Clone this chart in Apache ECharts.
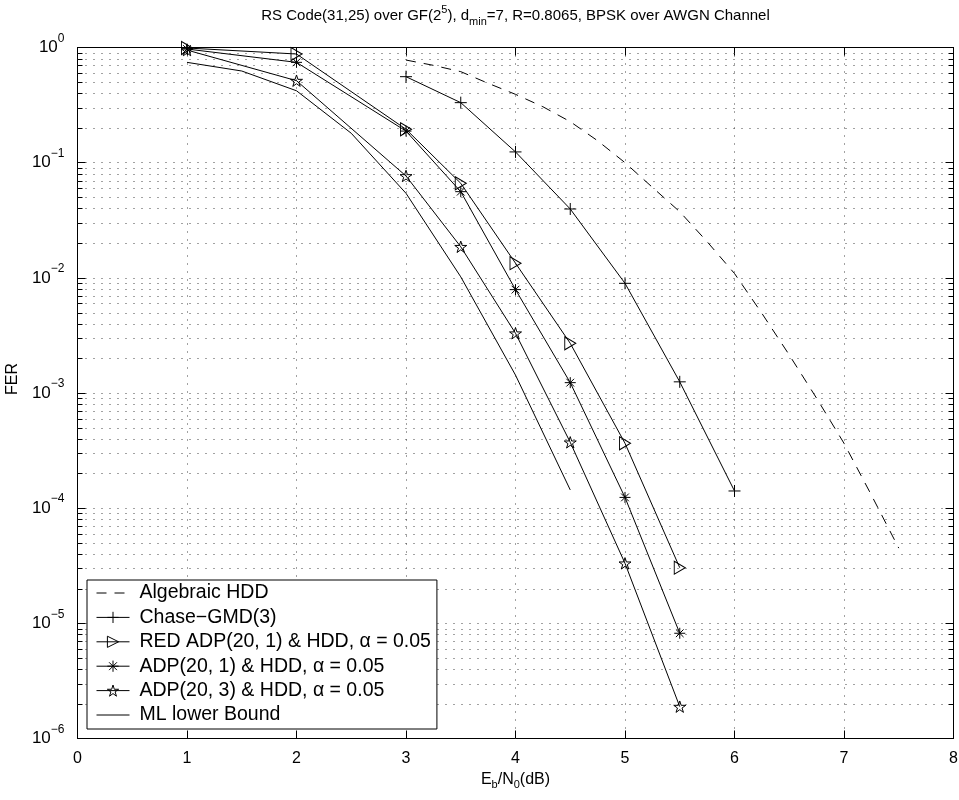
<!DOCTYPE html>
<html>
<head>
<meta charset="utf-8">
<title>RS(31,25) FER</title>
<script src="https://cdn.jsdelivr.net/npm/echarts@6/dist/echarts.min.js"></script>
<style>
  html, body { margin: 0; padding: 0; background: #fff; }
  #chart { width: 959px; height: 800px; }
</style>
</head>
<body>
<div id="chart"></div>
<script>
// Eb/N0 (dB) and frame error rate for each decoder
const ebN0Hdd = [3, 3.25, 3.5, 3.75, 4, 4.25, 4.5, 4.75, 5, 5.25, 5.5, 5.75, 6, 6.25, 6.5, 6.75, 7, 7.25, 7.5];
const ferHdd = [0.778, 0.70, 0.617, 0.489, 0.392, 0.306, 0.227, 0.155, 0.100, 0.0611, 0.0375, 0.0206, 0.0109,
                0.00492, 0.00214, 0.00090, 0.000366, 0.00013, 0.000045];

const ebN0Chase = [3, 3.5, 4, 4.5, 5, 5.5, 6];
const ferChase = [0.558, 0.332, 0.124, 0.0396, 0.00896, 0.00125, 0.000141];

const ebN0Red = [1, 2, 3, 3.5, 4, 4.5, 5, 5.5];
const ferRed = [0.99, 0.878, 0.195, 0.0662, 0.0134, 0.0027, 0.000366, 0.0000304];

const ebN0Adp1 = [1, 2, 3, 3.5, 4, 4.5, 5, 5.5];
const ferAdp1 = [0.97, 0.743, 0.188, 0.056, 0.0079, 0.00123, 0.000124, 0.0000082];

const ebN0Adp3 = [1, 2, 3, 3.5, 4, 4.5, 5, 5.5];
const ferAdp3 = [0.95, 0.515, 0.0766, 0.0186, 0.0033, 0.000373, 0.0000332, 0.00000189];

const ebN0Ml = [1, 1.5, 2, 2.5, 3, 3.5, 4, 4.5];
const ferMl = [0.743, 0.625, 0.421, 0.18, 0.0542, 0.0102, 0.00143, 0.000144];

const seriesNames = [
  'Algebraic HDD',
  'Chase\u2212GMD(3)',
  'RED ADP(20, 1) & HDD, \u03b1 = 0.05',
  'ADP(20, 1) & HDD, \u03b1 = 0.05',
  'ADP(20, 3) & HDD, \u03b1 = 0.05',
  'ML lower Bound'
];

// axis ticks
const xTicks = [0, 1, 2, 3, 4, 5, 6, 7, 8];
const yDecades = [-6, -5, -4, -3, -2, -1, 0];

const FONT = '"Liberation Sans", Arial, Helvetica, sans-serif';

// minor log grid lines: 2..9 x 10^k inside each decade
const yMinor = [];
for (let k = yDecades[0]; k < yDecades[yDecades.length - 1]; k++) {
  for (let m = 2; m <= 9; m++) yMinor.push([0, m * Math.pow(10, k)]);
}

const pairs = (xs, ys) => xs.map((x, i) => [x, ys[i]]);

const plusPath = 'path://M5,0L5,10M0,5L10,5';
const asteriskPath = 'path://M5,0L5,10M0,5L10,5M1.5,1.5L8.5,8.5M1.5,8.5L8.5,1.5';
const starPath = 'path://M5,0L6.123,3.455L9.755,3.455L6.817,5.59L7.939,9.045L5,6.91L2.061,9.045L3.183,5.59L0.245,3.455L3.877,3.455Z';
const triRightPath = 'path://M0,0L10,6L0,12Z';

const CLEAR = 'rgba(255,255,255,0)';
const markerStyle = { color: CLEAR, borderColor: '#000', borderWidth: 1 };
const lineBase = { color: '#000', width: 1 };

const chart = echarts.init(document.getElementById('chart'), null, { renderer: 'canvas' });

const supLabel = (exp) => '{b|10}{s|' + (exp < 0 ? '\u2212' + (-exp) : String(exp)) + '}';

const yAxisCommon = {
  type: 'log',
  logBase: 10,
  min: Math.pow(10, yDecades[0]),
  max: Math.pow(10, yDecades[yDecades.length - 1]),
  splitNumber: yDecades.length - 1,
  axisLine: { show: true, onZero: false, lineStyle: { color: '#000', width: 1 } },
  axisTick: { show: true, inside: true, length: 8, lineStyle: { color: '#000' } },
  minorTick: { show: false },
  splitLine: { show: false }
};

const xAxisCommon = {
  type: 'value',
  min: xTicks[0],
  max: xTicks[xTicks.length - 1],
  interval: 1,
  axisLine: { show: true, onZero: false, lineStyle: { color: '#000', width: 1 } },
  axisTick: { show: true, inside: true, length: 8, lineStyle: { color: '#000' } },
  splitLine: { show: false }
};

// legend entries: line-only series get an invisible marker
const noMarker = { color: CLEAR, borderColor: CLEAR, borderWidth: 0, opacity: 0 };
const legendData = seriesNames.map((name, i) =>
  (i === 0 || i === 5) ? { name, itemStyle: noMarker } : { name });

const option = {
  animation: false,
  backgroundColor: '#fff',
  title: {
    text: 'RS Code(31,25) over GF(2{sup|5}), d{sub|min}=7, R=0.8065, BPSK over AWGN Channel',
    left: 515.5,
    top: 4,
    padding: 0,
    textAlign: 'center',
    textStyle: {
      fontFamily: FONT, fontSize: 15, fontWeight: 'normal', color: '#000',
      rich: {
        sup: { fontFamily: FONT, fontSize: 11, color: '#000', padding: [0, 0, 12, 0] },
        sub: { fontFamily: FONT, fontSize: 11, color: '#000', padding: [12, 0, 0, 0] }
      }
    }
  },
  grid: {
    left: 77.5, right: 5.5, top: 47.5, bottom: 61.5,
    containLabel: false,
    outerBoundsMode: 'none'
  },
  legend: {
    orient: 'vertical',
    left: 87, top: 580,
    itemWidth: 33, itemHeight: 14, itemGap: 4.4,
    padding: [3, 6, 4, 9],
    borderColor: '#000', borderWidth: 1, borderRadius: 0,
    backgroundColor: '#fff',
    data: legendData,
    itemStyle: { color: CLEAR, borderColor: '#000', borderWidth: 1 },
    lineStyle: { color: '#000', width: 1 },
    textStyle: { fontFamily: FONT, fontSize: 19.5, color: '#000', lineHeight: 20, padding: [0, 0, 0, 5] }
  },
  xAxis: [
    Object.assign({}, xAxisCommon, {
      position: 'bottom',
      name: '{n|E}{s|b}{n|/N}{s|0}{n|(dB)}',
      nameLocation: 'middle',
      nameGap: 28,
      nameTextStyle: {
        fontFamily: FONT, fontSize: 16, color: '#000',
        rich: {
          n: { fontFamily: FONT, fontSize: 16, color: '#000' },
          s: { fontFamily: FONT, fontSize: 11, color: '#000', padding: [12, 0, 0, 0] }
        }
      },
      axisLabel: { show: true, color: '#000', fontFamily: FONT, fontSize: 16, margin: 12 },
      splitLine: { show: true, lineStyle: { color: '#444', width: 1, type: [1, 7] } }
    }),
    Object.assign({}, xAxisCommon, {
      position: 'top',
      axisLabel: { show: false }
    })
  ],
  yAxis: [
    Object.assign({}, yAxisCommon, {
      position: 'left',
      name: 'FER',
      nameLocation: 'middle',
      nameGap: 46,
      nameTextStyle: { fontFamily: FONT, fontSize: 16, color: '#000', padding: [0, 0, 0, 28] },
      axisLabel: {
        show: true, margin: 13, color: '#000',
        formatter: (v) => supLabel(Math.round(Math.log10(v))),
        rich: {
          b: { fontFamily: FONT, fontSize: 17, color: '#000' },
          s: { fontFamily: FONT, fontSize: 12, color: '#000', padding: [0, 0, 18, 0] }
        }
      },
      splitLine: { show: true, lineStyle: { color: '#444', width: 1, type: [1, 7] } }
    }),
    Object.assign({}, yAxisCommon, {
      position: 'right',
      axisLabel: { show: false }
    })
  ],
  series: [
    {
      name: 'minor grid',
      type: 'custom',
      xAxisIndex: 0, yAxisIndex: 0,
      silent: true,
      z: 1,
      encode: { x: 0, y: 1 },
      data: yMinor,
      renderItem: (params, api) => {
        const cs = params.coordSys;
        const p = api.coord([0, api.value(1)]);
        const y = Math.round(p[1]) + 0.5;
        const x0 = cs.x, x1 = cs.x + cs.width;
        return {
          type: 'group',
          children: [
            { type: 'line', shape: { x1: x0, y1: y, x2: x1, y2: y }, style: { stroke: '#444', lineWidth: 1, lineDash: [1, 7] } },
            { type: 'line', shape: { x1: x0, y1: y, x2: x0 + 5, y2: y }, style: { stroke: '#000', lineWidth: 1 } },
            { type: 'line', shape: { x1: x1 - 5, y1: y, x2: x1, y2: y }, style: { stroke: '#000', lineWidth: 1 } }
          ]
        };
      }
    },
    {
      name: seriesNames[0], type: 'line', data: pairs(ebN0Hdd, ferHdd),
      symbol: 'none', lineStyle: Object.assign({}, lineBase, { type: [10, 8] }), z: 3
    },
    {
      name: seriesNames[1], type: 'line', data: pairs(ebN0Chase, ferChase),
      symbol: plusPath, symbolSize: 12, showAllSymbol: true,
      itemStyle: markerStyle, lineStyle: lineBase, z: 3
    },
    {
      name: seriesNames[2], type: 'line', data: pairs(ebN0Red, ferRed),
      symbol: triRightPath, symbolSize: [11, 13], showAllSymbol: true,
      itemStyle: markerStyle, lineStyle: lineBase, z: 3
    },
    {
      name: seriesNames[3], type: 'line', data: pairs(ebN0Adp1, ferAdp1),
      symbol: asteriskPath, symbolSize: 11, showAllSymbol: true,
      itemStyle: markerStyle, lineStyle: lineBase, z: 3
    },
    {
      name: seriesNames[4], type: 'line', data: pairs(ebN0Adp3, ferAdp3),
      symbol: starPath, symbolSize: 12, symbolKeepAspect: true, showAllSymbol: true,
      itemStyle: markerStyle, lineStyle: lineBase, z: 3
    },
    {
      name: seriesNames[5], type: 'line', data: pairs(ebN0Ml, ferMl),
      symbol: 'none', lineStyle: lineBase, z: 3
    }
  ]
};

chart.setOption(option);
</script>
</body>
</html>
